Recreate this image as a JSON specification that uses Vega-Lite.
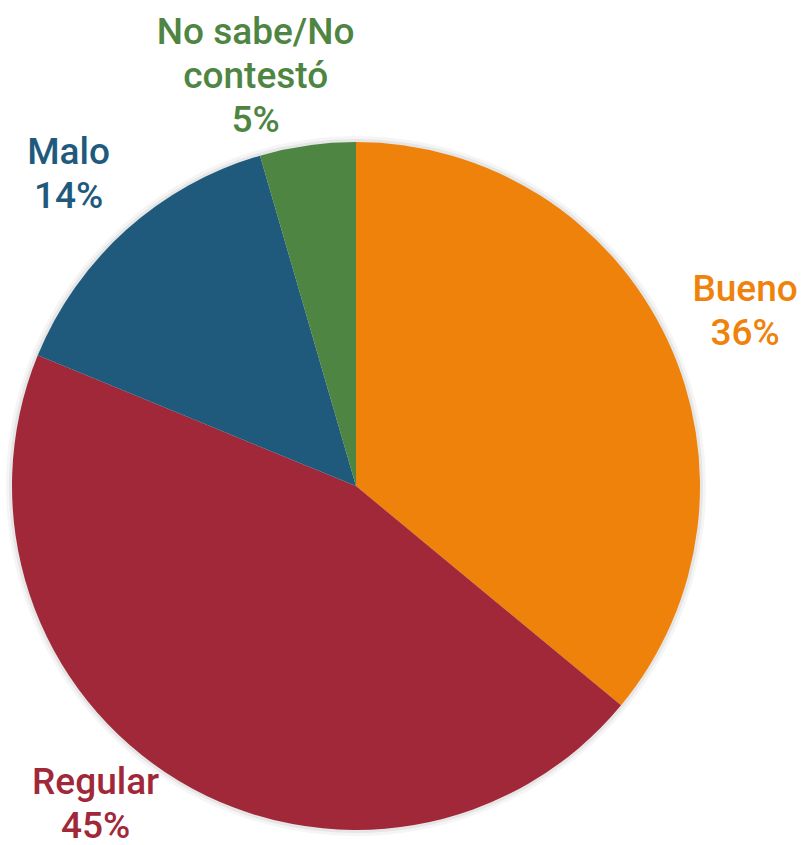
{
  "$schema": "https://vega.github.io/schema/vega-lite/v6.json",
  "width": 712,
  "height": 688,
  "autosize": {"type": "none"},
  "padding": {"left": 0, "top": 142, "right": 96, "bottom": 15},
  "background": "white",
  "view": {"stroke": null},
  "data": {
    "values": [
      {"categoria": "Bueno", "etiqueta": "Bueno\n36%", "valor": 36.0, "orden": 1},
      {"categoria": "Regular", "etiqueta": "Regular\n45%", "valor": 45.2, "orden": 2},
      {"categoria": "Malo", "etiqueta": "Malo\n14%", "valor": 14.3, "orden": 3},
      {"categoria": "No sabe/No contestó", "etiqueta": "No sabe/No\ncontestó\n5%", "valor": 4.5, "orden": 4}
    ]
  },
  "transform": [
    {"stack": "valor", "groupby": [], "sort": [{"field": "orden", "order": "ascending"}], "as": ["ini", "fin"]},
    {"calculate": "(datum.ini + datum.fin) / 2", "as": "medio"}
  ],
  "layer": [
    {
      "mark": {"type": "arc", "radius": 350, "fill": "#000000", "fillOpacity": 0.04, "stroke": null},
      "encoding": {
        "theta": {"field": "ini", "type": "quantitative", "scale": {"domain": [0, 100]}},
        "theta2": {"field": "fin"}
      }
    },
    {
      "mark": {"type": "arc", "radius": 347, "fill": "#000000", "fillOpacity": 0.06, "stroke": null},
      "encoding": {
        "theta": {"field": "ini", "type": "quantitative", "scale": {"domain": [0, 100]}},
        "theta2": {"field": "fin"}
      }
    },
    {
      "mark": {"type": "arc", "radius": 344, "stroke": null},
      "encoding": {
        "theta": {"field": "ini", "type": "quantitative", "scale": {"domain": [0, 100]}},
        "theta2": {"field": "fin"},
        "color": {
          "field": "categoria",
          "type": "nominal",
          "scale": {
            "domain": ["Bueno", "Regular", "Malo", "No sabe/No contestó"],
            "range": ["#EF820A", "#A02838", "#1F5A7C", "#4E8542"]
          },
          "legend": null
        }
      }
    },
    {
      "transform": [{"filter": "datum.categoria === 'Bueno' || datum.categoria === 'Malo'"}],
      "mark": {"type": "text", "radius": 430, "font": "Roboto", "fontWeight": 500, "fontSize": 37, "lineBreak": "\n", "lineHeight": 44, "align": "center", "baseline": "middle", "dy": -13},
      "encoding": {
        "theta": {"field": "medio", "type": "quantitative", "scale": {"domain": [0, 100]}},
        "text": {"field": "etiqueta"},
        "color": {"field": "categoria", "type": "nominal", "legend": null}
      }
    },
    {
      "transform": [{"filter": "datum.categoria === 'Regular'"}],
      "mark": {"type": "text", "radius": 372, "dx": -69, "dy": -22, "font": "Roboto", "fontWeight": 500, "fontSize": 37, "lineBreak": "\n", "lineHeight": 44, "align": "center", "baseline": "middle"},
      "encoding": {
        "theta": {"field": "medio", "type": "quantitative", "scale": {"domain": [0, 100]}},
        "text": {"field": "etiqueta"},
        "color": {"field": "categoria", "type": "nominal", "legend": null}
      }
    },
    {
      "transform": [{"filter": "datum.categoria === 'No sabe/No contestó'"}],
      "mark": {"type": "text", "radius": 414, "dx": -42, "dy": -43, "font": "Roboto", "fontWeight": 500, "fontSize": 37, "lineBreak": "\n", "lineHeight": 44, "align": "center", "baseline": "middle"},
      "encoding": {
        "theta": {"field": "medio", "type": "quantitative", "scale": {"domain": [0, 100]}},
        "text": {"field": "etiqueta"},
        "color": {"field": "categoria", "type": "nominal", "legend": null}
      }
    }
  ]
}
